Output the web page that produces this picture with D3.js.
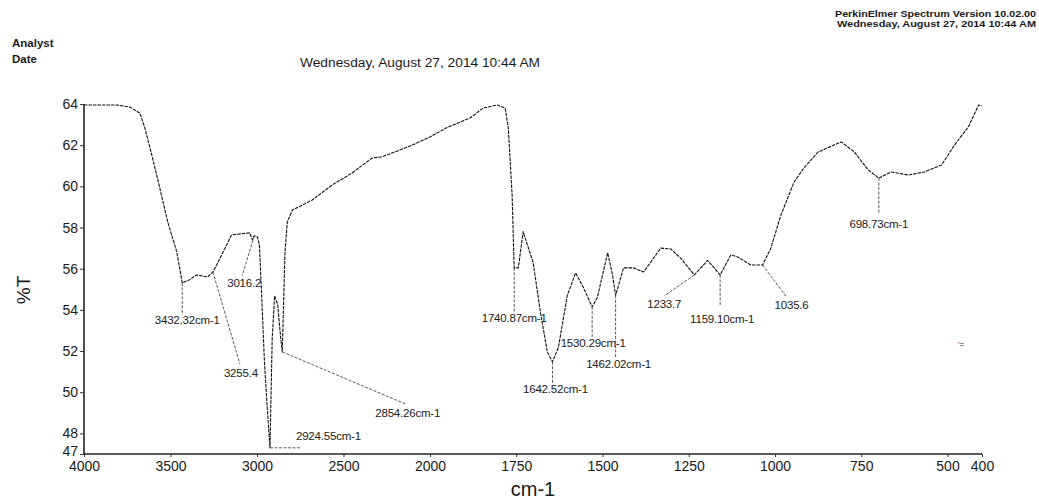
<!DOCTYPE html>
<html>
<head>
<meta charset="utf-8">
<script src="https://cdn.jsdelivr.net/npm/d3@7/dist/d3.min.js"></script>
<style>
  html, body { margin: 0; padding: 0; background: #fff; }
  svg { display: block; }
  text { font-family: "Liberation Sans", Arial, sans-serif; fill: #1a1a1a; }
</style>
</head>
<body>
<svg id="chart" width="1039" height="500"></svg>
<script>
// ---- data ----
const wavenumber = [4000, 3810, 3735, 3677, 3648, 3608, 3562, 3516, 3464, 3432, 3390, 3349, 3285, 3255, 3233, 3147, 3043, 3026, 3016, 2997, 2986, 2974, 2957, 2940, 2925, 2912, 2898, 2880, 2865, 2854, 2845, 2838, 2825, 2795, 2680, 2565, 2450, 2334, 2277, 2104, 2000, 1954, 1884, 1846, 1805, 1782, 1773, 1762, 1756, 1744, 1730, 1701, 1680, 1660, 1645, 1628, 1602, 1578, 1555, 1530, 1515, 1485, 1471, 1462, 1439, 1410, 1381, 1331, 1302, 1273, 1234, 1195, 1159, 1128, 1108, 1070, 1036, 1012, 983, 945, 916, 875, 808, 770, 730, 699, 663, 613, 567, 517, 480, 439, 425, 410, 400];
const transmittance = [63.95, 63.95, 63.85, 63.56, 62.83, 61.52, 59.92, 58.27, 56.82, 55.31, 55.46, 55.7, 55.6, 55.84, 56.18, 57.64, 57.74, 57.4, 57.6, 57.54, 57.15, 54.87, 51.48, 49.15, 47.3, 52.64, 54.68, 54.24, 52.8, 51.96, 54.73, 56.82, 58.27, 58.85, 59.34, 60.07, 60.65, 61.38, 61.43, 62.0, 62.4, 62.83, 63.32, 63.8, 63.95, 63.8, 62.83, 59.58, 56.04, 56.04, 57.8, 56.3, 53.9, 51.96, 51.48, 52.16, 54.7, 55.8, 55.07, 54.15, 54.6, 56.77, 55.7, 54.7, 56.04, 56.04, 55.84, 57.0, 56.96, 56.5, 55.7, 56.4, 55.7, 56.67, 56.57, 56.18, 56.18, 57.0, 58.6, 60.2, 60.9, 61.67, 62.16, 61.67, 60.8, 60.4, 60.7, 60.55, 60.7, 61.04, 62.0, 62.9, 63.4, 63.95, 63.9];

const peakWn = [3432, 3255, 3016, 2925, 2854, 1756, 1645, 1530, 1462, 1234, 1159, 1036, 699];
const peakLabels = ["3432.32cm-1", "3255.4", "3016.2", "2924.55cm-1", "2854.26cm-1", "1740.87cm-1", "1642.52cm-1", "1530.29cm-1", "1462.02cm-1", "1233.7", "1159.10cm-1", "1035.6", "698.73cm-1"];

const xTicks = [4000, 3500, 3000, 2500, 2000, 1750, 1500, 1250, 1000, 750, 500, 400];
const yTicks = [64, 62, 60, 58, 56, 54, 52, 50, 48, 47];

// ---- layout (pixel offsets of leader end and label, relative to the peak point) ----
const labelLayout = [
  {ex: 0,   ey: 32, tx: 5,   ty: 41, anchor: "middle"},
  {ex: 27,  ey: 92, tx: 28,  ty: 105, anchor: "middle"},
  {ex: -12, ey: 40, tx: -27, ty: 51, anchor: "start"},
  {ex: 30,  ey: 0,  tx: 26,  ty: -8, anchor: "start"},
  {ex: 123, ey: 52, tx: 93,  ty: 65, anchor: "start"},
  {ex: 0,   ey: 45, tx: 0,   ty: 54, anchor: "middle"},
  {ex: 0,   ey: 21, tx: 3,   ty: 31, anchor: "middle"},
  {ex: 0,   ey: 31, tx: 1,   ty: 40, anchor: "middle"},
  {ex: 0,   ey: 62, tx: 3,   ty: 73, anchor: "middle"},
  {ex: -30, ey: 21, tx: -30, ty: 33, anchor: "middle"},
  {ex: 0,   ey: 31, tx: 2,   ty: 48, anchor: "middle"},
  {ex: 24,  ey: 32, tx: 29,  ty: 44, anchor: "middle"},
  {ex: 0,   ey: 35, tx: 0,   ty: 50, anchor: "middle"}
];

const svg = d3.select("#chart");

// split-scale x axis, like the spectrometer printout (2000 cm-1 break)
const x = d3.scaleLinear().domain([4000, 2000, 400]).range([84, 430, 982]);
const y = d3.scaleLinear().domain([47, 64]).range([454, 104]);

// header texts
svg.append("text").attr("x", 12).attr("y", 47).attr("font-size", 11.5).attr("font-weight", "bold").text("Analyst");
svg.append("text").attr("x", 12).attr("y", 63).attr("font-size", 11.5).attr("font-weight", "bold").text("Date");
svg.append("text").attr("x", 300).attr("y", 67).attr("font-size", 12.5)
  .attr("textLength", 240).attr("lengthAdjust", "spacingAndGlyphs").text("Wednesday, August 27, 2014 10:44 AM");
svg.append("text").attr("x", 835).attr("y", 17).attr("font-size", 9.5).attr("font-weight", "bold")
  .attr("textLength", 201).attr("lengthAdjust", "spacingAndGlyphs").text("PerkinElmer Spectrum Version 10.02.00");
svg.append("text").attr("x", 837).attr("y", 27).attr("font-size", 9.5).attr("font-weight", "bold")
  .attr("textLength", 199).attr("lengthAdjust", "spacingAndGlyphs").text("Wednesday, August 27, 2014 10:44 AM");

// axes
const yAxis = svg.append("g").attr("transform", "translate(84,0)")
  .call(d3.axisLeft(y).tickValues(yTicks).tickSize(4).tickPadding(2).tickFormat(d3.format("d")));
const xAxis = svg.append("g").attr("transform", "translate(0,454)")
  .call(d3.axisBottom(x).tickValues(xTicks).tickSize(3).tickPadding(4).tickFormat(d3.format("d")));
[yAxis, xAxis].forEach(g => {
  g.select(".domain").attr("stroke", "#222").attr("stroke-width", 1.6);
  g.selectAll(".tick line").attr("stroke", "#333").attr("stroke-width", 1);
  g.selectAll(".tick text").attr("font-size", 14).attr("fill", "#222")
    .style("font-family", "'Liberation Sans', Arial, sans-serif");
});
yAxis.selectAll(".tick").filter(d => d === 47).select("text").attr("dy", "0.1em");
xAxis.select(".domain").attr("d", "M84,0H982");
yAxis.select(".domain").attr("d", "M0,104V454");

// axis titles
svg.append("text").attr("transform", "translate(30,290) rotate(-90)")
  .attr("text-anchor", "middle").attr("font-size", 19).text("%T");
svg.append("text").attr("x", 533).attr("y", 496)
  .attr("text-anchor", "middle").attr("font-size", 20).text("cm-1");

// spectrum
const pts = wavenumber.map((w, i) => [w, transmittance[i]]);
const line = d3.line().x(d => x(d[0])).y(d => y(d[1]));
svg.append("path").datum(pts)
  .attr("fill", "none").attr("stroke", "#111").attr("stroke-width", 1.1)
  .attr("stroke-dasharray", "3.5,1").attr("stroke-linejoin", "round")
  .attr("d", line);

// peak annotations
const tAt = w => transmittance[wavenumber.indexOf(w)];
const ann = svg.append("g");
peakWn.forEach((w, i) => {
  const px = x(w), py = y(tAt(w));
  const L = labelLayout[i];
  ann.append("line")
    .attr("x1", px).attr("y1", py).attr("x2", px + L.ex).attr("y2", py + L.ey)
    .attr("stroke", "#444").attr("stroke-width", 0.9).attr("stroke-dasharray", "3,1.5");
  ann.append("text")
    .attr("x", px + L.tx).attr("y", py + L.ty)
    .attr("text-anchor", L.anchor).attr("font-size", 11.5).attr("fill", "#222")
    .attr("letter-spacing", -0.2)
    .text(peakLabels[i]);
});

// small stray mark printed near the right margin of the scan
svg.append("text").attr("x", 958).attr("y", 347).attr("font-size", 8).attr("fill", "#555").text("'=");
</script>
</body>
</html>
